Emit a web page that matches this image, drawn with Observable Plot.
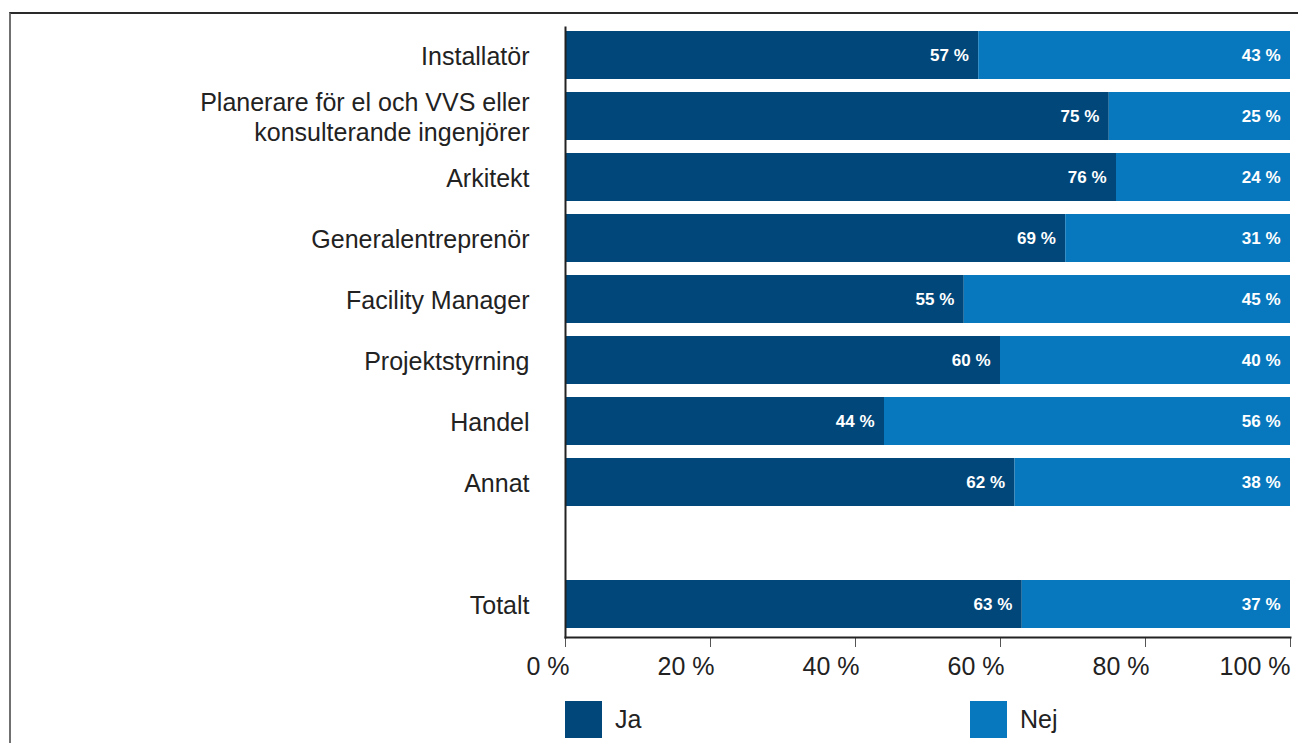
<!DOCTYPE html>
<html>
<head>
<meta charset="utf-8">
<script src="https://cdn.jsdelivr.net/npm/d3@7"></script>
<script src="https://cdn.jsdelivr.net/npm/@observablehq/plot@0.6"></script>
<style>
  html, body { margin: 0; padding: 0; background: #fff; }
  body { width: 1298px; height: 743px; overflow: hidden; position: relative; font-family: "Liberation Sans", Arial, Helvetica, sans-serif; }
  #frame { position: absolute; left: 9px; top: 12px; width: 1287px; height: 740px;
           border-top: 2px solid #2a2a2a; border-left: 2px solid #707070; }
  #legend { position: absolute; left: 554px; top: 687px; display: flex; }
  .item { display: flex; align-items: center; margin-top: 0; }
  .sw { width: 37px; height: 37px; margin-right: 13px; }
  .lbl { font-size: 25px; color: #222; }
</style>
</head>
<body>
<div id="frame"><div id="chart"></div>
<div id="legend"></div></div>
<script>
const categories = [
  "Installatör",
  "Planerare för el och VVS eller\nkonsulterande ingenjörer",
  "Arkitekt",
  "Generalentreprenör",
  "Facility Manager",
  "Projektstyrning",
  "Handel",
  "Annat",
  "Totalt"
];
const ja  = [57, 75, 76, 69, 55, 60, 44, 62, 63];
const nej = [43, 25, 24, 31, 45, 40, 56, 38, 37];
const seriesNames = ["Ja", "Nej"];
const seriesColors = ["#01477A", "#0878BE"];
const xTicks = [0, 20, 40, 60, 80, 100];

const spacer = " ";
const yDomain = [...categories.slice(0, 8), spacer, categories[8]];

const data = [];
categories.forEach((c, i) => {
  data.push({cat: c, answer: "Ja", value: ja[i]});
  data.push({cat: c, answer: "Nej", value: nej[i]});
});

const chart = Plot.plot({
  width: 1287,
  height: 673,
  marginLeft: 554,
  marginRight: 8,
  marginTop: 13,
  marginBottom: 50,
  style: { fontFamily: "'Liberation Sans', Arial, Helvetica, sans-serif", color: "#222", background: "#fff", overflow: "visible" },
  x: { domain: [0, 100] },
  y: { domain: yDomain, paddingInner: 0.217, paddingOuter: 0.084, align: 0.33 },
  color: { domain: seriesNames, range: seriesColors },
  marks: [
    Plot.barX(data, Plot.stackX({x: "value", y: "cat", fill: "answer", z: "answer", order: seriesNames})),
    Plot.text(data, Plot.stackX2({
      x: "value", y: "cat", z: "answer", order: seriesNames,
      text: d => `${d.value} %`,
      textAnchor: "end", dx: -10, fill: "white",
      fontWeight: "bold", fontSize: 17
    })),
    Plot.axisX({
      ticks: xTicks, tickSize: 10, tickPadding: 10, fontSize: 25,
      tickFormat: d => `${d} %`, stroke: "#555", label: null,
      textAnchor: "end"
    }),
    Plot.axisY({
      tickSize: 0, tickPadding: 36, fontSize: 25, lineHeight: 1.18,
      tickFormat: d => d === spacer ? "" : d, label: null
    }),
    Plot.frame({anchor: "left", stroke: "#222", strokeWidth: 2}),
    Plot.frame({anchor: "bottom", stroke: "#222", strokeWidth: 2})
  ]
});
// shift tick labels slightly right of the tick, except the last one (as in reference)
chart.querySelectorAll('g[aria-label="x-axis tick label"] text').forEach((t, i, all) => {
  if (i < all.length - 1) t.setAttribute("dx", "4");
});
document.getElementById("chart").appendChild(chart);

const legend = document.getElementById("legend");
seriesNames.forEach((name, i) => {
  const item = document.createElement("div");
  item.className = "item";
  if (i === 0) item.style.width = "405px";
  const sw = document.createElement("div");
  sw.className = "sw";
  sw.style.background = seriesColors[i];
  const lb = document.createElement("span");
  lb.className = "lbl";
  lb.textContent = name;
  item.appendChild(sw);
  item.appendChild(lb);
  legend.appendChild(item);
});
</script>
</body>
</html>
